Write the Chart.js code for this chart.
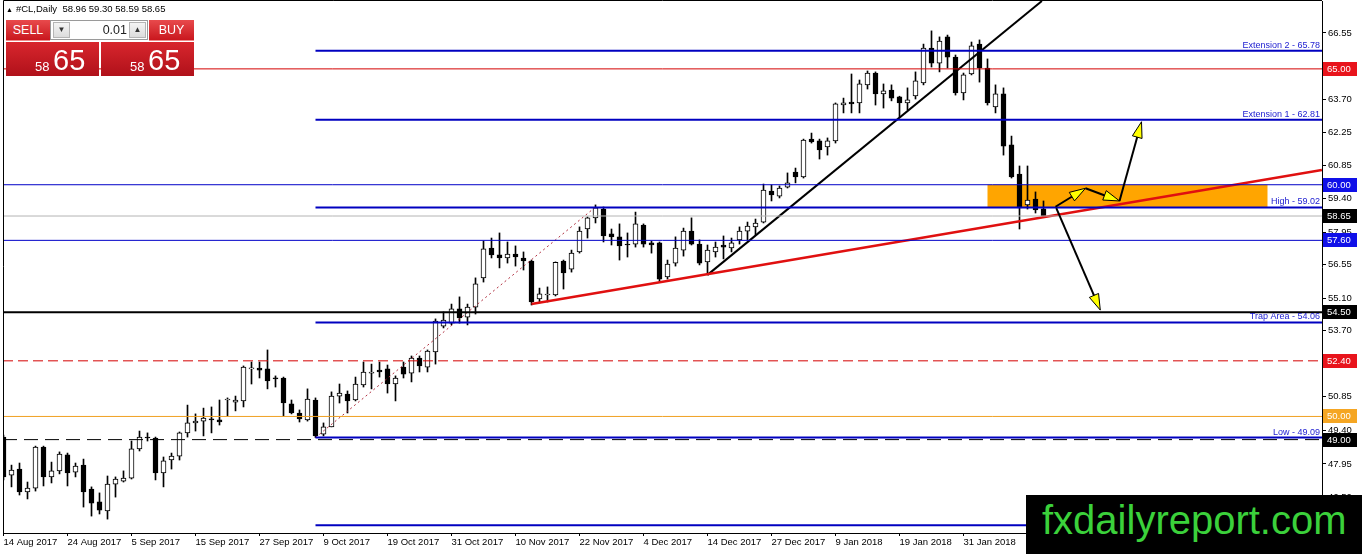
<!DOCTYPE html>
<html>
<head>
<meta charset="utf-8">
<title>#CL,Daily</title>
<script src="https://cdn.jsdelivr.net/npm/chart.js@4.4.1/dist/chart.umd.min.js"></script>
<style>
body { margin: 0; background: #fff; }
#wrap { position: relative; width: 1362px; height: 554px; overflow: hidden; font-family: 'Liberation Sans', Arial, sans-serif; }
#grafico { position: absolute; left: 0; top: 0; }
#titulo { position: absolute; left: 6px; top: 3px; font-size: 9.5px; line-height: 12px; color: #000; white-space: nowrap; }
#titulo .tri { font-size: 7px; margin-right: 3px; }
.btn { position: absolute; top: 20px; height: 21px; background: linear-gradient(#e84a4c, #c9171e); color: #fff; font-size: 12.5px; line-height: 21px; text-align: center; border-bottom: 1px solid #f08a8a; box-sizing: border-box; }
#sell { left: 6px; width: 44px; }
#buy { left: 149px; width: 45px; }
#spin { position: absolute; left: 50px; top: 20px; width: 98px; height: 20px; background: #fff; border: 1px solid #9a9a9a; box-sizing: border-box; }
.sb { position: absolute; top: 1px; width: 17px; height: 16px; background: linear-gradient(#f4f4f4, #dcdcdc); border: 1px solid #b5b5b5; box-sizing: border-box; font-size: 8px; line-height: 14px; text-align: center; color: #333; }
#down { left: 2px; }
#up { right: 1px; }
#lote { position: absolute; right: 20px; top: 0; line-height: 18px; font-size: 12.5px; color: #222; }
.preco { position: absolute; top: 42px; height: 34px; width: 93px; background: linear-gradient(#d8262d, #b0111a); color: #fff; }
#psell { left: 6px; }
#pbuy { left: 101px; }
.preco .p1 { position: absolute; left: 29px; top: 18px; font-size: 13px; line-height: 1; }
.preco .p2 { position: absolute; left: 47px; top: 4px; font-size: 29px; line-height: 1; }
#logo { position: absolute; left: 1026px; top: 495px; width: 336px; height: 59px; background: #000; color: #3bd13b; font-size: 40px; line-height: 40px; padding: 5px 0 0 16px; box-sizing: border-box; white-space: nowrap; }
</style>
</head>
<body>
<div id="wrap">
  <canvas id="grafico" width="1362" height="554"></canvas>
  <div id="titulo"><span class="tri">▲</span>#CL,Daily&nbsp; 58.96 59.30 58.59 58.65</div>
  <div class="btn" id="sell">SELL</div>
  <div id="spin"><div class="sb" id="down">▼</div><div id="lote">0.01</div><div class="sb" id="up">▲</div></div>
  <div class="btn" id="buy">BUY</div>
  <div class="preco" id="psell"><span class="p1">58</span><span class="p2">65</span></div>
  <div class="preco" id="pbuy"><span class="p1">58</span><span class="p2">65</span></div>
  <div id="logo">fxdailyreport.com</div>
</div>
<script>
// candles, one per trading day from 14 Aug 2017 (bar 0) to the last bar
var abertura = [
  49.11, 47.47, 47.73, 46.74, 46.91, 48.68, 47.39, 47.65, 48.34, 47.60,
  47.90, 46.87, 46.31, 45.92, 47.08, 47.21, 47.34, 48.60, 49.11, 49.07,
  47.56, 48.12, 48.29, 49.29, 49.72, 49.80, 49.89, 49.85, 50.71, 50.62,
  50.67, 52.05, 52.09, 52.05, 51.66, 51.66, 50.54, 50.15, 49.85, 50.71,
  49.24, 49.55, 50.88, 50.97, 50.71, 51.36, 51.87, 52.00, 52.05, 51.40,
  52.13, 51.87, 52.52, 52.13, 52.78, 53.90, 54.03, 54.64, 54.29, 54.72,
  55.98, 57.27, 56.97, 56.84, 57.01, 56.84, 56.71, 55.07, 55.24, 55.24,
  56.71, 56.36, 57.10, 58.09, 58.57, 58.95, 57.88, 57.75, 57.44, 57.44,
  58.26, 57.49, 57.49, 56.02, 56.62, 57.18, 58.00, 57.44, 56.67, 57.10,
  57.40, 57.27, 57.62, 58.00, 58.18, 58.39, 59.73, 59.51, 59.90, 60.55,
  60.34, 61.97, 61.89, 61.63, 61.89, 63.44, 63.57, 63.53, 64.31, 64.82,
  63.92, 64.09, 63.79, 63.53, 63.83, 64.39, 65.90, 65.25, 66.38, 65.51,
  63.96, 64.78, 66.07, 65.04, 63.36, 63.92, 61.72, 60.46, 59.13, 59.38,
  58.96
];
var maxima = [
  49.20, 47.90, 47.99, 47.17, 48.72, 48.72, 48.03, 48.47, 48.42, 47.99,
  48.16, 46.96, 46.70, 47.43, 47.39, 47.65, 48.94, 49.37, 49.29, 49.11,
  48.25, 48.42, 49.33, 50.49, 50.11, 50.36, 50.41, 50.71, 50.80, 50.88,
  52.18, 52.35, 52.35, 52.87, 51.75, 51.70, 50.71, 50.28, 51.19, 50.80,
  49.72, 51.06, 51.40, 51.10, 51.70, 52.35, 52.26, 52.35, 52.22, 51.75,
  52.35, 52.61, 52.61, 52.87, 54.21, 54.51, 54.85, 55.16, 54.85, 55.98,
  57.57, 57.70, 57.92, 57.53, 57.36, 57.10, 56.75, 55.54, 55.59, 56.67,
  56.75, 57.18, 58.18, 58.61, 59.13, 59.04, 58.09, 58.31, 57.92, 58.82,
  58.31, 57.57, 57.53, 56.75, 57.75, 58.13, 58.57, 57.62, 57.40, 57.53,
  57.79, 57.70, 58.18, 58.39, 58.52, 60.03, 59.99, 59.95, 60.51, 60.72,
  61.97, 62.23, 61.97, 62.02, 63.53, 63.74, 64.78, 64.52, 64.91, 64.87,
  64.35, 64.31, 63.82, 64.18, 64.87, 66.07, 66.64, 66.38, 66.46, 65.60,
  64.82, 66.16, 66.25, 65.43, 64.31, 64.18, 62.10, 60.81, 60.81, 59.69,
  59.30
];
var minima = [
  47.26, 46.96, 46.61, 46.44, 46.78, 47.00, 47.13, 47.52, 47.00, 47.39,
  46.09, 45.70, 45.79, 45.57, 46.52, 47.17, 47.30, 48.51, 48.94, 47.26,
  46.96, 47.73, 48.12, 49.11, 49.37, 49.16, 49.29, 49.63, 50.02, 50.24,
  50.41, 51.40, 51.66, 51.19, 51.27, 50.02, 50.11, 49.76, 49.80, 49.09,
  49.16, 49.55, 50.58, 50.15, 50.67, 51.27, 51.19, 51.70, 51.01, 50.67,
  51.66, 51.49, 51.92, 51.92, 52.26, 53.82, 53.95, 54.03, 53.95, 54.42,
  55.80, 56.84, 56.41, 56.62, 56.49, 56.32, 54.81, 54.90, 54.94, 55.20,
  55.50, 56.23, 57.05, 57.70, 58.35, 57.53, 57.40, 56.75, 56.88, 57.31,
  57.31, 57.05, 55.80, 55.93, 56.49, 56.92, 57.40, 56.54, 56.11, 56.88,
  56.80, 57.10, 57.44, 57.62, 57.83, 58.35, 59.30, 59.43, 59.86, 60.08,
  60.29, 61.80, 61.11, 61.28, 61.80, 63.10, 63.10, 63.10, 64.13, 63.44,
  63.31, 63.62, 62.92, 63.23, 63.70, 64.31, 65.08, 64.87, 65.04, 63.87,
  63.66, 64.74, 64.43, 63.44, 63.10, 61.28, 60.29, 58.09, 58.95, 58.78,
  58.59
];
var fechamento = [
  47.39, 47.69, 46.74, 46.91, 48.68, 47.39, 47.65, 48.38, 47.56, 47.86,
  46.74, 46.26, 45.96, 47.08, 47.30, 47.34, 48.60, 49.11, 49.07, 47.56,
  48.08, 48.29, 49.29, 49.72, 49.80, 49.93, 49.85, 49.76, 50.75, 50.71,
  52.13, 52.09, 52.00, 51.53, 51.62, 50.58, 50.15, 49.89, 50.75, 49.16,
  49.55, 50.88, 51.01, 50.67, 51.40, 51.92, 51.92, 51.92, 51.40, 51.66,
  51.83, 52.52, 52.18, 52.82, 54.12, 54.16, 54.64, 54.25, 54.72, 55.72,
  57.23, 56.97, 56.84, 57.01, 56.88, 56.71, 54.94, 55.29, 55.27, 56.65,
  56.19, 57.05, 58.00, 58.57, 59.00, 57.79, 57.75, 57.36, 57.40, 58.31,
  57.44, 57.40, 55.93, 56.58, 57.27, 58.00, 57.44, 56.62, 57.18, 57.31,
  57.31, 57.49, 58.00, 58.22, 58.35, 59.77, 59.56, 59.86, 60.08, 60.34,
  61.93, 61.85, 61.50, 61.89, 63.49, 63.53, 63.49, 64.35, 64.82, 63.92,
  64.05, 63.74, 63.53, 63.66, 64.48, 65.90, 65.25, 66.20, 65.51, 63.96,
  64.74, 65.99, 65.04, 63.53, 63.92, 61.67, 60.34, 59.00, 59.34, 58.91,
  58.65
];

// axis labels
var barrasRotulo = [0, 8, 16, 24, 32, 40, 48, 56, 64, 72, 80, 88, 96, 104, 112, 120];
var rotulosX = ['14 Aug 2017', '24 Aug 2017', '5 Sep 2017', '15 Sep 2017', '27 Sep 2017', '9 Oct 2017',
  '19 Oct 2017', '31 Oct 2017', '10 Nov 2017', '22 Nov 2017', '4 Dec 2017', '14 Dec 2017',
  '27 Dec 2017', '9 Jan 2018', '19 Jan 2018', '31 Jan 2018'];
var marcasY = [66.55, 65.10, 63.70, 62.25, 60.85, 59.40, 57.95, 56.55, 55.10, 53.70, 52.25, 50.85, 49.40, 47.95, 46.50];

// horizontal levels across the whole chart
var niveis = [65.00, 60.00, 58.65, 57.60, 54.50, 52.40, 50.00, 49.00];
// fibo levels drawn from the 6 Oct low
var fiboInicio = 39;
var fiboValores = [65.78, 62.81, 59.02, 54.06, 49.09, 45.30];
var fiboNomes = ['Extension 2 - 65.78', 'Extension 1 - 62.81', 'High - 59.02', 'Trap Area - 54.06', 'Low - 49.09', ''];

// trend lines (bar index, price)
var tendVermX = [66, 164.8];
var tendVermY = [54.85, 60.64];
var tendPretaX = [88, 129.8];
var tendPretaY = [56.11, 67.93];
var fiboTendX = [39, 74];
var fiboTendY = [49.09, 59.04];

// orange zone
var caixaBarras = [123, 158];
var caixaPrecos = [59.02, 60.00];

// arrows
var zigueX = [131.5, 135.25, 139.5, 142.25];
var zigueY = [59.05, 59.85, 59.30, 62.72];
var baixoX = [131.6, 137.1];
var baixoY = [58.99, 54.59];

var X_MIN = -0.0625;
var X_MAX = 164.8125;

var corNivel = ['#d40000', '#0000c8', '#b4b4b4', '#0000c8', '#000000', '#d40000', '#f0a020', '#000000'];
var larguraNivel = [1, 1, 1, 1, 2, 1, 1, 1];
var tracoNivel = [[], [], [], [], [], [10, 5], [], [14, 7]];
var caixaNivel = ['#e8141c', '#1010e8', '#000000', '#1010e8', '#000000', '#e8141c', '#f5a623', '#000000'];

function linha(xs, ys, cor, largura, tracos) {
  return {
    type: 'line',
    data: xs.map(function (v, i) { return { x: v, y: ys[i] }; }),
    borderColor: cor,
    borderWidth: largura,
    borderDash: tracos || [],
    pointRadius: 0,
    fill: false,
    order: 1
  };
}

var datasets = [];

niveis.forEach(function (v, i) {
  datasets.push(linha([X_MIN, X_MAX], [v, v], corNivel[i], larguraNivel[i], tracoNivel[i]));
});
fiboValores.forEach(function (v) {
  datasets.push(linha([fiboInicio, X_MAX], [v, v], '#0000c0', 2));
});
datasets.push(linha(fiboTendX, fiboTendY, '#b03040', 1, [2, 3]));
datasets.push(linha(tendVermX, tendVermY, '#e01010', 2.5));
datasets.push(linha(tendPretaX, tendPretaY, '#000000', 2));

datasets.push({
  type: 'bar',
  data: abertura.map(function (o, i) { return { x: i, y: [o, fechamento[i]] }; }),
  backgroundColor: fechamento.map(function (c, i) { return c >= abertura[i] ? '#ffffff' : '#000000'; }),
  borderColor: '#000000',
  borderWidth: 1,
  borderSkipped: false,
  barThickness: 5,
  minBarLength: 1,
  grouped: false,
  order: 2
});
datasets.push({
  type: 'bar',
  data: minima.map(function (l, i) { return { x: i, y: [l, maxima[i]] }; }),
  backgroundColor: '#000000',
  borderWidth: 0,
  barThickness: 1,
  grouped: false,
  order: 3
});

function seta(ctx, x0, y0, x1, y1) {
  var a = Math.atan2(y1 - y0, x1 - x0), c = Math.cos(a), s = Math.sin(a);
  ctx.strokeStyle = '#000';
  ctx.lineWidth = 2;
  ctx.beginPath();
  ctx.moveTo(x0, y0);
  ctx.lineTo(x1 - c * 10, y1 - s * 10);
  ctx.stroke();
  ctx.beginPath();
  ctx.moveTo(x1, y1);
  ctx.lineTo(x1 - 16 * c + 5 * s, y1 - 16 * s - 5 * c);
  ctx.lineTo(x1 - 16 * c - 5 * s, y1 - 16 * s + 5 * c);
  ctx.closePath();
  ctx.fillStyle = '#ffff00';
  ctx.fill();
  ctx.lineWidth = 1;
  ctx.stroke();
}

var desenho = {
  id: 'desenho',
  beforeDatasetsDraw: function (chart) {
    var ctx = chart.ctx, x = chart.scales.x, y = chart.scales.y;
    var x0 = x.getPixelForValue(caixaBarras[0]), x1 = x.getPixelForValue(caixaBarras[1]);
    var y0 = y.getPixelForValue(caixaPrecos[1]), y1 = y.getPixelForValue(caixaPrecos[0]);
    ctx.save();
    ctx.fillStyle = '#ffa500';
    ctx.fillRect(x0, y0, x1 - x0, y1 - y0);
    ctx.restore();
  },
  afterDatasetsDraw: function (chart) {
    var ctx = chart.ctx, x = chart.scales.x, y = chart.scales.y, area = chart.chartArea;
    ctx.save();
    for (var i = 1; i < zigueX.length; i++) {
      seta(ctx, x.getPixelForValue(zigueX[i - 1]), y.getPixelForValue(zigueY[i - 1]),
        x.getPixelForValue(zigueX[i]), y.getPixelForValue(zigueY[i]));
    }
    seta(ctx, x.getPixelForValue(baixoX[0]), y.getPixelForValue(baixoY[0]),
      x.getPixelForValue(baixoX[1]), y.getPixelForValue(baixoY[1]));

    ctx.font = '9px "Liberation Sans", Arial, sans-serif';
    ctx.fillStyle = '#1a1ad0';
    ctx.textAlign = 'right';
    ctx.textBaseline = 'alphabetic';
    fiboValores.forEach(function (v, k) {
      if (fiboNomes[k]) ctx.fillText(fiboNomes[k], area.right - 2, y.getPixelForValue(v) - 3);
    });

    // chart frame
    ctx.strokeStyle = '#000';
    ctx.lineWidth = 1;
    ctx.beginPath();
    ctx.moveTo(area.left + 0.5, area.bottom);
    ctx.lineTo(area.left + 0.5, area.top - 0.5);
    ctx.lineTo(area.right, area.top - 0.5);
    ctx.stroke();
    ctx.restore();
  },
  afterDraw: function (chart) {
    var ctx = chart.ctx, y = chart.scales.y, area = chart.chartArea;
    ctx.save();
    ctx.font = '9.5px "Liberation Sans", Arial, sans-serif';
    ctx.textAlign = 'left';
    ctx.textBaseline = 'middle';
    niveis.forEach(function (v, k) {
      var py = Math.round(y.getPixelForValue(v));
      ctx.fillStyle = caixaNivel[k];
      ctx.fillRect(area.right + 1, py - 7, 34, 14);
      ctx.fillStyle = '#ffffff';
      ctx.fillText(v.toFixed(2), area.right + 5, py + 0.5);
    });
    ctx.restore();
  }
};

var fonteEixo = { family: '"Liberation Sans", Arial, sans-serif', size: 9.5 };

var grafico = new Chart(document.getElementById('grafico').getContext('2d'), {
  type: 'bar',
  data: { datasets: datasets },
  plugins: [desenho],
  options: {
    responsive: false,
    animation: false,
    events: [],
    layout: { padding: { left: 3, top: 1, right: 0, bottom: 0 } },
    plugins: { legend: { display: false }, tooltip: { enabled: false } },
    scales: {
      x: {
        type: 'linear',
        min: X_MIN,
        max: X_MAX,
        offset: false,
        afterFit: function (s) { s.height = 21; s.paddingLeft = 0; s.paddingRight = 0; },
        afterBuildTicks: function (s) { s.ticks = barrasRotulo.map(function (v) { return { value: v }; }); },
        ticks: {
          autoSkip: false,
          maxRotation: 0,
          align: 'start',
          padding: 1,
          color: '#000',
          font: fonteEixo,
          callback: function (v, i) { return rotulosX[i]; }
        },
        grid: { drawOnChartArea: false, drawTicks: true, tickLength: 3, color: '#000', offset: false },
        border: { display: true, color: '#000' }
      },
      y: {
        type: 'linear',
        position: 'right',
        min: 44.97,
        max: 67.93,
        afterFit: function (s) { s.width = 40; s.paddingTop = 0; s.paddingBottom = 0; },
        afterBuildTicks: function (s) { s.ticks = marcasY.map(function (v) { return { value: v }; }); },
        ticks: {
          padding: 2,
          color: '#000',
          font: fonteEixo,
          callback: function (v) { return v.toFixed(2); }
        },
        grid: { drawOnChartArea: false, drawTicks: true, tickLength: 4, color: '#000' },
        border: { display: true, color: '#000' }
      }
    }
  }
});
</script>
</body>
</html>
